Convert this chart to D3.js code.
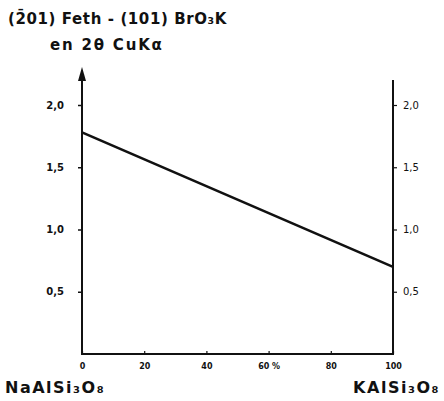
<!DOCTYPE html>
<html>
<head>
<meta charset="utf-8">
<script src="https://cdn.jsdelivr.net/npm/d3@7"></script>
<style>
  html, body { margin: 0; padding: 0; background: #fff; }
  svg { display: block; }
  text { fill: #111; font-family: "DejaVu Sans", sans-serif; }
</style>
</head>
<body>
<svg id="chart" width="444" height="401"></svg>
<script>
// Composition (% KAlSi3O8) and the measured 2θ difference
const compositions = [0, 100];
const deltaTwoTheta = [1.78, 0.70];
const xTicks = [0, 20, 40, 60, 80, 100];
const yTicks = [0.5, 1.0, 1.5, 2.0];
const titleLines = ["(2\u030401) Feth - (101) BrO\u2083K", "en 2\u03B8 CuK\u03B1"];
const endMembers = ["NaAlSi\u2083O\u2088", "KAlSi\u2083O\u2088"];

const svg = d3.select("#chart");
const x = d3.scaleLinear().domain([0, 100]).range([82, 393]);
const y = d3.scaleLinear().domain([0, 2]).range([354, 105]);

const fr = d3.formatLocale({ decimal: ",", thousands: ".", grouping: [3], currency: ["", ""] });
const f1 = fr.format(".1f");

// Left axis
const left = svg.append("g").attr("transform", `translate(${x(0)},0)`)
  .call(d3.axisLeft(y).tickValues(yTicks).tickFormat(f1).tickSize(4).tickPadding(14));
left.select(".domain").remove();
left.selectAll("line").attr("stroke", "#111").attr("stroke-width", 1.5);
left.selectAll("text").attr("font-size", 10).attr("font-weight", "bold");

// Right axis
const right = svg.append("g").attr("transform", `translate(${x(100)},0)`)
  .call(d3.axisRight(y).tickValues(yTicks).tickFormat(f1).tickSize(4).tickPadding(6));
right.select(".domain").remove();
right.selectAll("line").attr("stroke", "#111").attr("stroke-width", 1.2);
right.selectAll("text").attr("font-size", 10);

// Bottom axis (ticks point into the plot)
const bottom = svg.append("g").attr("transform", `translate(0,${y(0)})`)
  .call(d3.axisBottom(x).tickValues(xTicks)
    .tickFormat(d => d === 60 ? "60 %" : String(d)).tickSize(-3).tickPadding(9));
bottom.select(".domain").remove();
bottom.selectAll("line").attr("stroke", "#111").attr("stroke-width", 1.2);
bottom.selectAll("text").attr("font-size", 8).attr("font-weight", "bold");

// Frame: left axis with arrow, right axis, baseline
const frame = d3.path();
frame.moveTo(x(0), 78);
frame.lineTo(x(0), y(0));
frame.lineTo(x(100), y(0));
frame.lineTo(x(100), 80);
svg.append("path").attr("d", frame.toString())
  .attr("fill", "none").attr("stroke", "#111").attr("stroke-width", 2);
svg.append("path")
  .attr("d", `M${x(0)},67 L${x(0) - 4},81 L${x(0) + 4},81 Z`)
  .attr("fill", "#111");

// Data line
const line = d3.line().x((d, i) => x(compositions[i])).y(d => y(d));
svg.append("path").datum(deltaTwoTheta).attr("d", line)
  .attr("fill", "none").attr("stroke", "#111").attr("stroke-width", 2.6);

// Title
svg.append("text").attr("x", 8).attr("y", 24).attr("font-size", 15).attr("font-weight", "bold")
  .attr("letter-spacing", 0.6).text(titleLines[0]);
svg.append("text").attr("x", 50).attr("y", 50).attr("font-size", 15).attr("font-weight", "bold")
  .attr("letter-spacing", 1.8).text(titleLines[1]);

// End-member labels
svg.append("text").attr("x", 5).attr("y", 393).attr("font-size", 16).attr("font-weight", "bold")
  .attr("letter-spacing", 1.5).text(endMembers[0]);
svg.append("text").attr("x", 440).attr("y", 393).attr("text-anchor", "end")
  .attr("font-size", 16).attr("font-weight", "bold").attr("letter-spacing", 1.5).text(endMembers[1]);
</script>
</body>
</html>
